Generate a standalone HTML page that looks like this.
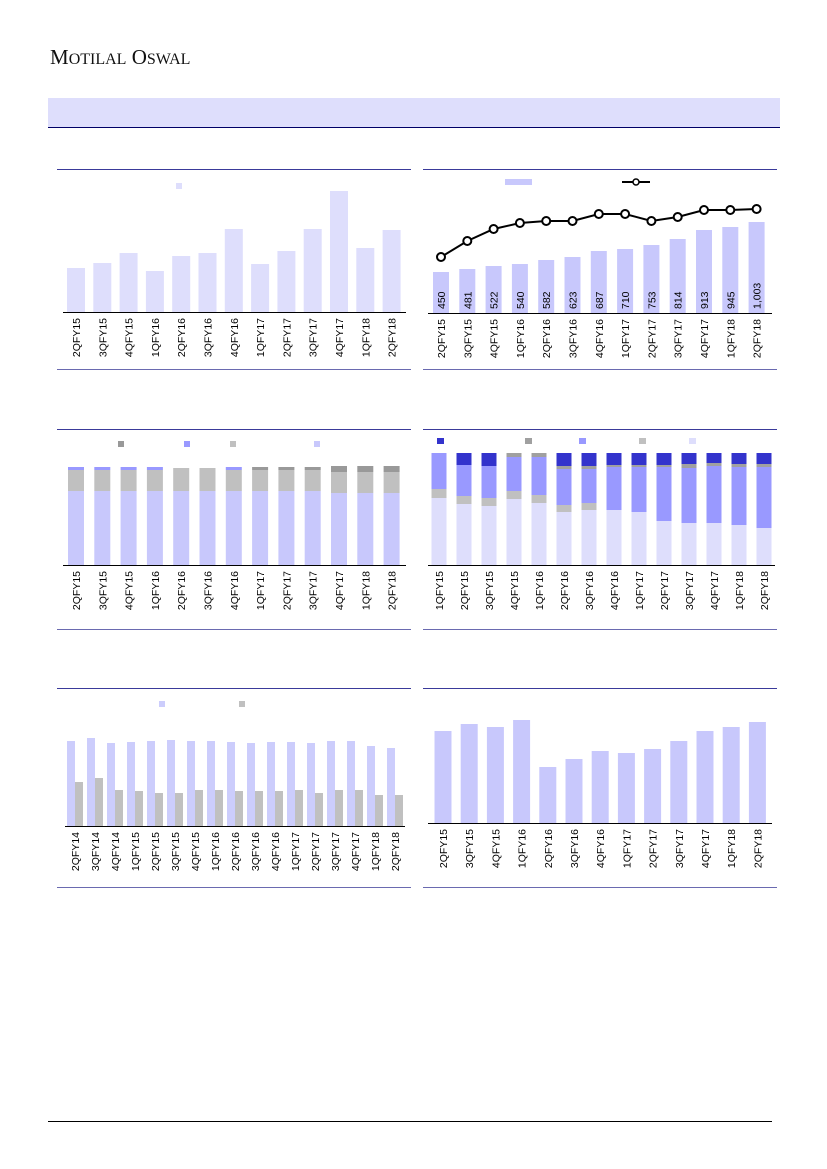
<!DOCTYPE html>
<html><head><meta charset="utf-8"><style>
body{margin:0;background:#fff;}
svg{display:block;font-family:"Liberation Sans",sans-serif;}
</style></head><body>
<svg id="s" width="827" height="1169" xmlns="http://www.w3.org/2000/svg">
<text x="50" y="64" font-family="Liberation Serif,serif" font-size="21" fill="#111">M<tspan font-size="16">OTILAL</tspan> O<tspan font-size="16">SWAL</tspan></text>
<rect x="48" y="98" width="732" height="29" fill="#dedefc"/>
<line x1="48" y1="127.5" x2="780" y2="127.5" stroke="#000066" stroke-width="1"/>
<line x1="48" y1="1121.5" x2="772" y2="1121.5" stroke="#000" stroke-width="1"/>
</svg>
<script>
var s=document.getElementById('s'),h='';
function R(x,y,w,hh,c){h+='<rect x="'+x+'" y="'+y+'" width="'+w+'" height="'+hh+'" fill="'+c+'"/>';}
function L(x1,y1,x2,y2,c,w){h+='<line x1="'+x1+'" y1="'+y1+'" x2="'+x2+'" y2="'+y2+'" stroke="'+c+'" stroke-width="'+(w||1)+'"/>';}
function T(x,y,t,fs){h+='<text transform="translate('+x+','+y+') rotate(-90)" text-anchor="end" font-size="'+(fs||10.5)+'" fill="#000">'+t+'</text>';}
function V(x,y,t,fs){h+='<text transform="translate('+x+','+y+') rotate(-90)" text-anchor="start" font-size="'+(fs||10.5)+'" fill="#000">'+t+'</text>';}
var Q=['2QFY15','3QFY15','4QFY15','1QFY16','2QFY16','3QFY16','4QFY16','1QFY17','2QFY17','3QFY17','4QFY17','1QFY18','2QFY18'];
var NV='#3a3a9a';
// chart1
L(57,169.5,411,169.5,NV);L(57,369.5,411,369.5,'#6a6ab0');
R(176,183,6,6,'#dedefc');
var t1=[268,263,253,271,256,253,229,264,251,229,191,248,230];
Q.forEach(function(q,i){var c=76+i*26.3;R(c-9,t1[i],18,312-t1[i],'#dedefc');T(c+4,318,q);});
L(63,312.5,406,312.5,'#000');
// chart2
L(423,169.5,777,169.5,NV);L(423,369.5,777,369.5,'#6a6ab0');
R(505,179,27,6,'#c8c8fc');L(622,182,650,182,'#000',2);h+='<circle cx="636" cy="182" r="3" fill="#fff" stroke="#000" stroke-width="1.5"/>';
var t2=[272,269,266,264,260,257,251,249,245,239,230,227,222],ly=[257,241,229,223,221,221,214,214,221,217,210,210,209];
var v2=['450','481','522','540','582','623','687','710','753','814','913','945','1,003'];
var pts=[];
Q.forEach(function(q,i){var c=441+i*26.3;R(c-8,t2[i],16,313-t2[i],'#c8c8fc');T(c+4,319,q);V(c+4,309,v2[i]);pts.push(c+','+ly[i]);});
L(428,313.5,772,313.5,'#000');
h+='<polyline points="'+pts.join(' ')+'" fill="none" stroke="#000" stroke-width="2"/>';
pts.forEach(function(p){var a=p.split(',');h+='<circle cx="'+a[0]+'" cy="'+a[1]+'" r="4" fill="#fff" stroke="#000" stroke-width="2"/>';});
// chart3
L(57,429.5,411,429.5,NV);L(57,629.5,411,629.5,'#6a6ab0');
R(118,441,6,6,'#999');R(184,441,6,6,'#9999ff');R(230,441,6,6,'#c0c0c0');R(314,441,6,6,'#c8c8fc');
var b3=[491,491,491,491,491,491,491,491,491,491,493,493,493];
var g3=[470,470,470,470,468,468,470,470,470,470,472,472,472];
Q.forEach(function(q,i){var c=76+i*26.3,x=c-8;R(x,b3[i],16,565-b3[i],'#c8c8fc');R(x,g3[i],16,b3[i]-g3[i],'#c0c0c0');
if(i<7&&i!=4&&i!=5)R(x,467,16,g3[i]-467,'#9999ff');else if(i>=7){var tp=i>9?466:467;R(x,tp,16,g3[i]-tp,'#999');}T(c+4,571,q);});
L(63,565.5,406,565.5,'#000');
// chart4
L(423,429.5,777,429.5,NV);L(423,629.5,777,629.5,'#6a6ab0');
R(437,438,7,6,'#3333cc');R(525,438,7,6,'#a0a0a0');R(579,438,7,6,'#9999ff');R(639,438,7,6,'#c0c0c0');R(689,438,7,6,'#dedefc');
var s4=[[453,453,453,489,498],[453,465,465,496,504],[453,466,466,498,506],[453,453,457,491,499],[453,453,457,495,503],[453,466,469,505,512],[453,466,469,503,510],[453,465,467,510,510],[453,465,467,512,512],[453,465,467,521,521],[453,464,468,523,523],[453,463,466,523,523],[453,464,467,525,525],[453,464,467,528,528]];
var Q4=['1QFY15'].concat(Q);
Q4.forEach(function(q,i){var c=439+i*25,x=c-7.5,a=s4[i];R(x,a[0],15,a[1]-a[0],'#3333cc');R(x,a[1],15,a[2]-a[1],'#a0a0a0');R(x,a[2],15,a[3]-a[2],'#9999ff');R(x,a[3],15,a[4]-a[3],'#c0c0c0');R(x,a[4],15,565-a[4],'#dedefc');T(c+4,571,q);});
L(428,565.5,775,565.5,'#000');
// chart5
L(57,688.5,411,688.5,NV);L(57,887.5,411,887.5,'#6a6ab0');
R(159,701,6,6,'#cccdfc');R(239,701,6,6,'#c0c0c0');
var Q5=['2QFY14','3QFY14','4QFY14','1QFY15'].concat(Q);
var bl=[741,738,743,742,741,740,741,741,742,743,742,742,743,741,741,746,748];
var gr=[782,778,790,791,793,793,790,790,791,791,791,790,793,790,790,795,795];
Q5.forEach(function(q,i){var c=75+i*20;R(c-8,bl[i],8,826-bl[i],'#cccdfc');R(c,gr[i],8,826-gr[i],'#c0c0c0');T(c+4,832,q);});
L(65,826.5,405,826.5,'#000');
// chart6
L(423,688.5,777,688.5,NV);L(423,887.5,777,887.5,'#6a6ab0');
var t6=[731,724,727,720,767,759,751,753,749,741,731,727,722];
Q.forEach(function(q,i){var c=443+i*26.2;R(c-8.5,t6[i],17,823-t6[i],'#c8c8fc');T(c+4,829,q);});
L(428,823.5,772,823.5,'#000');
s.insertAdjacentHTML('beforeend',h);
</script>
</body></html>
